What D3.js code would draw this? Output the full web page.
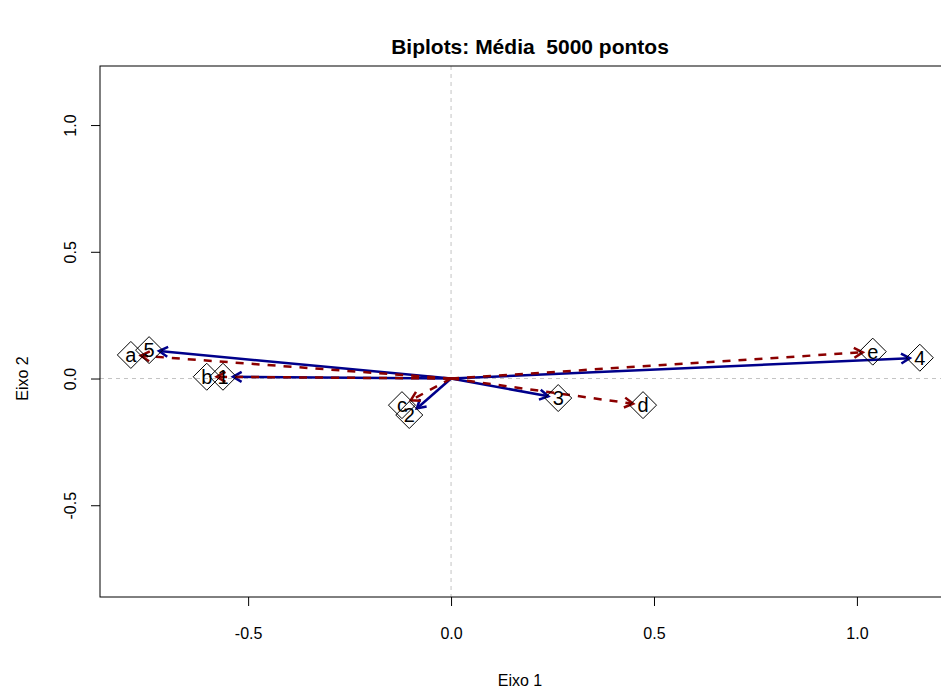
<!DOCTYPE html>
<html>
<head>
<meta charset="utf-8">
<script src="https://cdn.jsdelivr.net/npm/d3@7"></script>
<style>
  body { margin: 0; background: #fff; }
  svg { display: block; font-family: "Liberation Sans", Arial, sans-serif; }
  .keep-space { white-space: pre; }
</style>
</head>
<body>
<svg id="chart" width="941" height="689"></svg>
<script>
// Variable scores (blue, solid arrows)
const varLabels = ["1", "2", "3", "4", "5"];
const varX = [-0.562, -0.103, 0.264, 1.155, -0.744];
const varY = [0.007, -0.144, -0.077, 0.082, 0.112];

// Object scores (dark red, dashed arrows)
const objLabels = ["a", "b", "c", "d", "e"];
const objX = [-0.789, -0.602, -0.121, 0.473, 1.039];
const objY = [0.093, 0.007, -0.105, -0.105, 0.106];

// Axis ticks
const xTicks = [-0.5, 0.0, 0.5, 1.0];
const yTicks = [-0.5, 0.0, 0.5, 1.0];
const xDomain = [-0.865, 1.254];
const yDomain = [-0.862, 1.233];

const titleText = "Biplots: Média  5000 pontos";
const xTitle = "Eixo 1";
const yTitle = "Eixo 2";

const plot = { left: 100, right: 960, top: 66, bottom: 597 };
const svg = d3.select("#chart");

const x = d3.scaleLinear().domain(xDomain).range([plot.left, plot.right]);
const y = d3.scaleLinear().domain(yDomain).range([plot.bottom, plot.top]);
const fmt = d => d.toFixed(1);

// Reference lines through the origin
svg.append("line")
  .attr("x1", x(0)).attr("x2", x(0))
  .attr("y1", plot.top).attr("y2", plot.bottom)
  .attr("stroke", "#c4c4c4").attr("stroke-width", 1)
  .attr("stroke-dasharray", "4,4");
svg.append("line")
  .attr("x1", plot.left).attr("x2", plot.right)
  .attr("y1", y(0)).attr("y2", y(0))
  .attr("stroke", "#c4c4c4").attr("stroke-width", 1)
  .attr("stroke-dasharray", "4,4");

// Axes
const xAxis = svg.append("g")
  .attr("transform", `translate(0,${plot.bottom})`)
  .call(d3.axisBottom(x).tickValues(xTicks).tickFormat(fmt).tickSize(9).tickPadding(0));
xAxis.select(".domain").remove();
xAxis.selectAll(".tick line").attr("stroke", "#000");
xAxis.selectAll(".tick text")
  .attr("fill", "#000").attr("font-size", 16)
  .attr("font-family", "Liberation Sans, Arial, sans-serif")
  .attr("y", 0).attr("dy", null)
  .attr("transform", "translate(0,42)");

const yAxis = svg.append("g")
  .attr("transform", `translate(${plot.left},0)`)
  .call(d3.axisLeft(y).tickValues(yTicks).tickFormat(fmt).tickSize(9).tickPadding(0));
yAxis.select(".domain").remove();
yAxis.selectAll(".tick line").attr("stroke", "#000");
yAxis.selectAll(".tick text")
  .attr("fill", "#000").attr("font-size", 16)
  .attr("font-family", "Liberation Sans, Arial, sans-serif")
  .attr("x", 0).attr("dy", null)
  .attr("text-anchor", "middle")
  .attr("transform", "translate(-24,0) rotate(-90)");

// Plot frame
svg.append("rect")
  .attr("x", plot.left).attr("y", plot.top)
  .attr("width", plot.right - plot.left).attr("height", plot.bottom - plot.top)
  .attr("fill", "none").attr("stroke", "#000").attr("stroke-width", 1);

// Titles
svg.append("text")
  .attr("class", "keep-space")
  .attr("x", (plot.left + plot.right) / 2).attr("y", 54)
  .attr("text-anchor", "middle").attr("font-weight", "bold")
  .attr("font-size", 21).text(titleText);
svg.append("text")
  .attr("x", (plot.left + plot.right) / 2 - 10).attr("y", 686)
  .attr("text-anchor", "middle").attr("font-size", 16).text(xTitle);
svg.append("text")
  .attr("transform", `translate(28,${y(0)}) rotate(-90)`)
  .attr("text-anchor", "middle").attr("font-size", 16).text(yTitle);

// Arrow from the origin toward a score, stopping a little short of the marker
function arrowPath(px, py) {
  const x0 = x(0), y0 = y(0);
  const dx = px - x0, dy = py - y0;
  const len = Math.hypot(dx, dy);
  const ux = dx / len, uy = dy / len;
  const tx = px - ux * 10, ty = py - uy * 10;
  const head = 10, ang = Math.PI / 6;
  const a = Math.atan2(uy, ux);
  const h1x = tx - head * Math.cos(a - ang), h1y = ty - head * Math.sin(a - ang);
  const h2x = tx - head * Math.cos(a + ang), h2y = ty - head * Math.sin(a + ang);
  return {
    shaft: `M${x0},${y0}L${tx},${ty}`,
    head: `M${h1x},${h1y}L${tx},${ty}L${h2x},${h2y}`
  };
}

function drawSeries(labels, xs, ys, color, dash) {
  const g = svg.append("g");
  labels.forEach((lab, i) => {
    const p = arrowPath(x(xs[i]), y(ys[i]));
    g.append("path").attr("d", p.shaft)
      .attr("fill", "none").attr("stroke", color).attr("stroke-width", 2.5)
      .attr("stroke-dasharray", dash);
    g.append("path").attr("d", p.head)
      .attr("fill", "none").attr("stroke", color).attr("stroke-width", 2.5);
  });
}

drawSeries(varLabels, varX, varY, "#00008B", null);
drawSeries(objLabels, objX, objY, "#8B0000", "8,8");

// Diamond markers and labels
function drawMarkers(labels, xs, ys) {
  const g = svg.append("g");
  labels.forEach((lab, i) => {
    const cx = x(xs[i]), cy = y(ys[i]);
    const r = 13.5;
    g.append("path")
      .attr("d", `M${cx},${cy - r}L${cx + r},${cy}L${cx},${cy + r}L${cx - r},${cy}Z`)
      .attr("fill", "none").attr("stroke", "#000").attr("stroke-width", 1);
    g.append("text")
      .attr("x", cx).attr("y", cy).attr("dy", "0.36em")
      .attr("text-anchor", "middle").attr("font-size", 20).attr("fill", "#000")
      .text(lab);
  });
}
drawMarkers(varLabels, varX, varY);
drawMarkers(objLabels, objX, objY);
</script>
</body>
</html>
